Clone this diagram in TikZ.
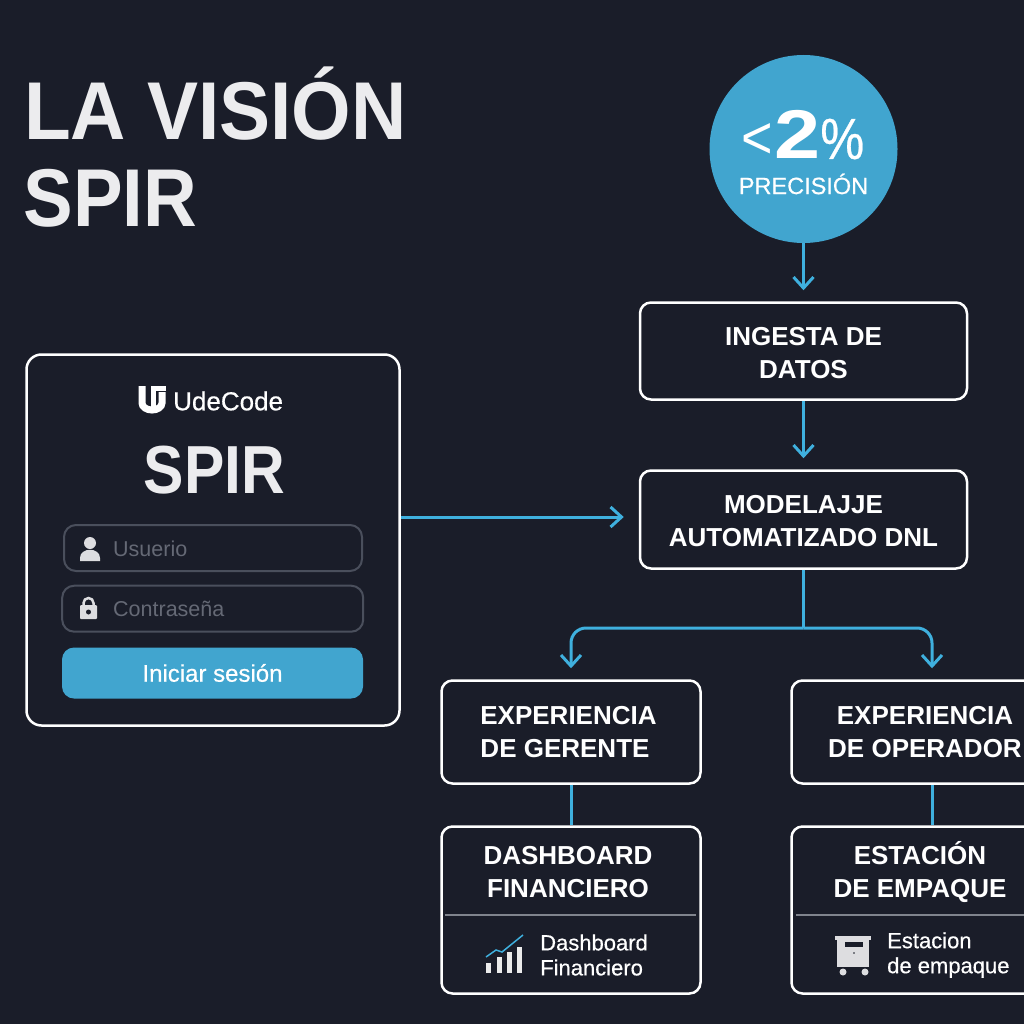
\documentclass[tikz,border=0pt]{standalone}
\usepackage{fontspec}
\setmainfont{Liberation Sans}
\newfontfamily\medfont[FakeBold=0.5]{Liberation Sans}
\usetikzlibrary{arrows.meta}

\definecolor{fondoColour}{HTML}{1A1D29}
\definecolor{azulColour}{HTML}{41A5CF}
\definecolor{lineaColour}{HTML}{3FB0DE}
\definecolor{campoColour}{HTML}{4A4F5C}
\definecolor{blancoColour}{HTML}{ECECEE}
\definecolor{iconoColour}{HTML}{DDDDE0}

\newcommand{\bajar}{\rule{0pt}{22pt}}

\tikzset{
    caja/.style={draw=white, line width=2.5pt, rounded corners=11pt, text=white, align=center,
        font=\fontsize{26}{33}\selectfont\bfseries, inner sep=0pt},
    campo/.style={draw=campoColour, line width=2pt, rounded corners=12pt, minimum width=298pt, minimum height=46pt},
    linea/.style={draw=lineaColour, line width=3pt},
    flecha/.style={linea, shorten >=11pt, -{Straight Barb[length=11pt,width=20pt,line width=3pt]}},
    tenue/.style={text=campoColour!85!white, font=\fontsize{21.5}{25}\selectfont, anchor=west, inner sep=0pt},
    titulo/.style={text=blancoColour, anchor=base west, inner sep=0pt, font=\fontsize{82}{82}\selectfont\bfseries},
    cabeza/.style={text=white, align=center, inner sep=0pt, font=\fontsize{26}{33}\selectfont\bfseries},
    pie/.style={text=white, align=left, anchor=west, inner sep=0pt, font=\fontsize{22}{25}\selectfont\medfont},
}

\begin{document}
\begin{tikzpicture}[x=1pt,y=-1pt]
    \useasboundingbox (0,0) rectangle (1024,1024);
    \fill[fondoColour] (0,0) rectangle (1024,1024);

    % Title
    \node[titulo] (tituloA) at (24,140) {\scalebox{0.933}[1]{LA VISIÓN}};
    \node[titulo] (tituloB) at (23.5,226) {\scalebox{0.907}[1]{SPIR}};

    % Circle with the figure
    \node[circle, fill=azulColour, minimum size=188pt, inner sep=0pt] (meta) at (803.5,149) {};
    \node[text=white, anchor=base, inner sep=0pt] (metaNum) at (803,159)
        {\fontsize{60}{60}\selectfont\scalebox{0.9}[1]{<}\hspace{1pt}\fontsize{69}{69}\selectfont\bfseries\scalebox{1.2}[1]{2}\fontsize{58}{58}\selectfont\mdseries\medfont\scalebox{0.85}[1]{\%}};
    \node[text=white, inner sep=0pt, font=\fontsize{23.5}{24}\selectfont\medfont] (metaTxt) at (803.5,184) {PRECISIÓN};

    % Flow boxes
    \node[caja, minimum width=327pt, minimum height=97pt] (ingesta) at (803.5,351) {\bajar INGESTA DE\\DATOS};
    \node[caja, minimum width=327pt, minimum height=98pt] (modelaje) at (803.5,519.5) {\bajar MODELAJJE\\AUTOMATIZADO DNL};
    \node[caja, minimum width=259pt, minimum height=103pt] (gerente) at (571,732) {EXPERIENCIA\hspace*{5pt}\\DE GERENTE\hspace*{12pt}};
    \node[caja, minimum width=267pt, minimum height=103pt] (operador) at (925,732) {EXPERIENCIA\\DE OPERADOR};
    \node[caja, minimum width=259pt, minimum height=167pt] (dashboard) at (571,910) {};
    \node[caja, minimum width=257pt, minimum height=167pt] (estacion) at (920,910) {};

    % Text of the two bottom boxes
    \node[cabeza] (dashTit) at (568,872) {DASHBOARD\\FINANCIERO};
    \node[cabeza] (estaTit) at (920,872) {ESTACIÓN\\DE EMPAQUE};
    \node[pie] (dashSub) at (540,955) {Dashboard\\Financiero};
    \node[pie] (estaSub) at (887,955) {Estacion\\de empaque};
    \draw[campoColour!70!white, line width=2.5pt] (445,915) -- (696,915);
    \draw[campoColour!70!white, line width=2.5pt] (796,915) -- (1024,915);

    % Chart icon
    \foreach \x/\y in {488.5/963,499.5/957,509/952,519.5/947}
        \fill[white!92!black] (\x-2.5,\y) rectangle (\x+2.5,973);
    \draw[lineaColour, line width=1.5pt] (486,957) -- (496,950) -- (502,952) -- (523,935);

    % Bin icon
    \fill[iconoColour] (835,936) rectangle (871,940);
    \fill[iconoColour] (837,940) rectangle (869,967);
    \fill[fondoColour] (845,941.5) rectangle (863,947);
    \fill[fondoColour] (854,953) circle (0.8pt);
    \foreach \x in {843,865}
        \fill[iconoColour] (\x,972) circle (3.5pt);

    % Login panel
    \node[caja, minimum width=373pt, minimum height=371pt, rounded corners=15pt] (login) at (213,540) {};
    \node[text=white, anchor=west, inner sep=0pt, font=\fontsize{26}{26}\selectfont\medfont] (marca) at (173,401) {UdeCode};
    \draw[white, line width=7pt] (142,386) -- (142,403) arc[start angle=180, end angle=0, x radius=10, y radius=7] -- (162,392);
    \fill[white] (151,386) rectangle (166,391);
    \fill[white] (151,386) rectangle (156,407);
    \node[text=blancoColour, inner sep=0pt, font=\fontsize{68}{68}\selectfont\bfseries] (spir) at (214.5,470) {\scalebox{0.89}[1]{SPIR}};
    \node[campo] (usuario) at (213,548) {};
    \node[campo, minimum width=301pt] (clave) at (212.7,608.7) {};
    \node[fill=azulColour, rounded corners=12pt, minimum width=301pt, minimum height=51pt, text=white, inner sep=0pt, font=\fontsize{24}{24}\selectfont\medfont] (entrar) at (212.5,673) {Iniciar sesión};
    \node[tenue] (usuarioTxt) at (113,549) {Usuerio};
    \node[tenue] (claveTxt) at (113,609) {Contraseña};

    % User icon
    \fill[iconoColour] (90,543) circle (6pt);
    \fill[iconoColour] (80,561) -- (80,558) .. controls (80,547) and (100,547) .. (100,558) -- (100,561) -- cycle;

    % Lock icon
    \draw[iconoColour, line width=2.5pt] (83.5,607) -- (83.5,603) arc[start angle=180, end angle=0, x radius=5, y radius=-5] -- (93.5,607);
    \fill[iconoColour, rounded corners=1pt] (80,605) rectangle (97,619);
    \fill[fondoColour] (88.5,612) circle (2.5pt);

    % Connectors
    \draw[flecha] (meta.south) -- (ingesta.north);
    \draw[flecha] (ingesta.south) -- (modelaje.north);
    \draw[flecha, shorten >=15pt] ([yshift=2.5pt]login.east |- modelaje.west) -- ([yshift=2.5pt]modelaje.west);
    \coordinate (fork) at (803.5,628);
    \draw[linea] (modelaje.south) -- (fork);
    \draw[flecha, rounded corners=15pt] (fork) -| (gerente.north);
    \draw[flecha, rounded corners=15pt] (fork) -| ([xshift=7pt]operador.north);
    \draw[linea] (gerente.south) -- (dashboard.north);
    \draw[linea] ([xshift=7pt]operador.south) -- ([xshift=7pt]operador.south |- estacion.north);
\end{tikzpicture}
\end{document}
